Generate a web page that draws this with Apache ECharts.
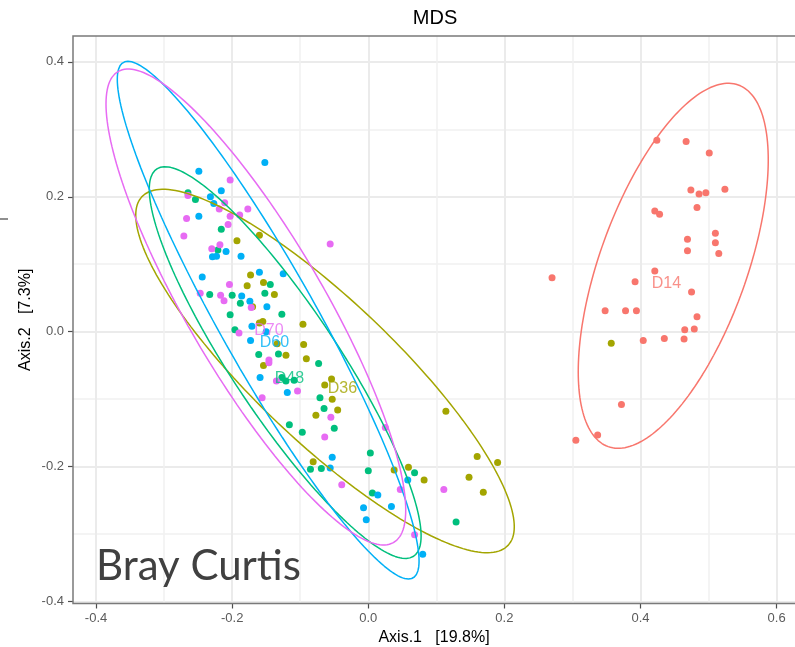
<!DOCTYPE html>
<html>
<head>
<meta charset="utf-8">
<title>MDS</title>
<script src="https://cdn.jsdelivr.net/npm/echarts/dist/echarts.min.js"></script>
<style>
  html, body { margin: 0; padding: 0; background: #ffffff; }
  #chart { width: 795px; height: 647px; }
</style>
</head>
<body>
<div id="chart"></div>
<script>
// Sample groups (sampling day) and their colours
const groups = ['D14', 'D36', 'D48', 'D60', 'D70'];
const groupColors = ['#F8766D', '#A3A500', '#00BF7D', '#00B0F6', '#E76BF3'];

// MDS coordinates (Axis.1, Axis.2) per group
const d14X = [0.424, 0.467, 0.501, 0.474, 0.486, 0.496, 0.524, 0.483, 0.421, 0.428, 0.469, 0.510, 0.510, 0.469, 0.515, 0.270, 0.421, 0.392, 0.475, 0.348, 0.378, 0.394, 0.483, 0.465, 0.479, 0.404, 0.435, 0.464, 0.372, 0.337, 0.305];
const d14Y = [0.284, 0.282, 0.265, 0.210, 0.204, 0.206, 0.211, 0.184, 0.179, 0.174, 0.137, 0.146, 0.132, 0.120, 0.116, 0.080, 0.090, 0.074, 0.059, 0.031, 0.031, 0.031, 0.022, 0.003, 0.004, -0.013, -0.010, -0.011, -0.108, -0.153, -0.161];

const d36X = [-0.193, -0.160, -0.173, -0.154, -0.178, -0.138, -0.170, -0.096, -0.160, -0.155, -0.134, -0.095, -0.121, -0.091, -0.154, -0.054, -0.064, -0.053, -0.045, -0.077, -0.081, 0.038, 0.059, 0.082, 0.114, 0.160, 0.190, 0.148, 0.169, 0.357];
const d36Y = [0.135, 0.143, 0.084, 0.073, 0.068, 0.055, 0.037, 0.011, 0.013, 0.015, -0.018, -0.019, -0.035, -0.040, -0.050, -0.070, -0.079, -0.100, -0.116, -0.124, -0.193, -0.205, -0.201, -0.220, -0.118, -0.185, -0.194, -0.216, -0.238, -0.017];

const d48X = [-0.265, -0.254, -0.216, -0.221, -0.144, -0.233, -0.200, -0.152, -0.188, -0.203, -0.127, -0.196, -0.161, -0.132, -0.073, -0.127, -0.121, -0.109, -0.071, -0.065, -0.116, -0.097, -0.050, 0.003, -0.085, -0.069, 0.000, 0.006, 0.068, 0.129];
const d48Y = [0.206, 0.196, 0.152, 0.121, 0.070, 0.055, 0.054, 0.057, 0.042, 0.025, 0.026, 0.003, -0.034, -0.033, -0.047, -0.068, -0.073, -0.072, -0.098, -0.114, -0.138, -0.149, -0.143, -0.180, -0.204, -0.203, -0.206, -0.239, -0.209, -0.282];

const d60X = [-0.152, -0.249, -0.216, -0.232, -0.227, -0.249, -0.209, -0.229, -0.223, -0.187, -0.244, -0.160, -0.125, -0.186, -0.174, -0.149, -0.171, -0.150, -0.173, -0.159, -0.119, -0.053, -0.056, 0.014, 0.058, 0.034, -0.007, -0.003, 0.080];
const d60Y = [0.251, 0.238, 0.209, 0.200, 0.190, 0.171, 0.119, 0.111, 0.112, 0.112, 0.081, 0.088, 0.086, 0.053, 0.045, 0.037, 0.008, 0.000, -0.013, -0.068, -0.090, -0.186, -0.202, -0.242, -0.220, -0.259, -0.261, -0.279, -0.330];

const d70X = [-0.203, -0.265, -0.211, -0.219, -0.177, -0.189, -0.203, -0.267, -0.206, -0.271, -0.056, -0.218, -0.230, -0.204, -0.247, -0.217, -0.212, -0.172, -0.190, -0.146, -0.146, -0.135, -0.104, -0.156, -0.055, -0.064, 0.025, -0.039, 0.047, 0.111, 0.068];
const d70Y = [0.225, 0.202, 0.191, 0.182, 0.182, 0.173, 0.171, 0.168, 0.159, 0.142, 0.130, 0.129, 0.123, 0.070, 0.057, 0.054, 0.046, 0.036, -0.002, -0.042, -0.046, -0.073, -0.088, -0.098, -0.127, -0.156, -0.142, -0.227, -0.234, -0.234, -0.301];

const groupX = [d14X, d36X, d48X, d60X, d70X];
const groupY = [d14Y, d36Y, d48Y, d60Y, d70Y];

// Group label anchors (centroids)
const labelX = [0.438, -0.038, -0.116, -0.138, -0.146];
const labelY = [0.072, -0.085, -0.069, -0.016, 0.002];

// 95% confidence ellipses: centre, half extents along each axis, and the
// cosine of the phase between the x and y oscillation (sets the tilt)
const ellipseCx = [0.4481, -0.0636, -0.1221, -0.1471, -0.1652];
const ellipseCy = [0.0977, -0.0583, -0.0458, 0.0171, 0.0366];
const ellipseRx = [0.1396, 0.2781, 0.1997, 0.2217, 0.2202];
const ellipseRy = [0.2706, 0.2694, 0.2904, 0.3838, 0.3529];
const ellipseCos = [0.58, -0.857, -0.885, -0.93, -0.853];

// Axis ticks
const xTicks = [-0.4, -0.2, 0.0, 0.2, 0.4, 0.6];
const yTicks = [-0.4, -0.2, 0.0, 0.2, 0.4];

function ellipsePoints(i) {
  const phi = Math.acos(ellipseCos[i]);
  const pts = [];
  const n = 200;
  for (let k = 0; k <= n; k++) {
    const t = (k / n) * 2 * Math.PI;
    pts.push([
      ellipseCx[i] + ellipseRx[i] * Math.cos(t),
      ellipseCy[i] + ellipseRy[i] * Math.cos(t + phi)
    ]);
  }
  return pts;
}

const FONT = '"Liberation Sans", Arial, Helvetica, sans-serif';

const series = [];
groups.forEach((g, i) => {
  series.push({
    name: g,
    type: 'scatter',
    symbol: 'circle',
    symbolSize: 7,
    itemStyle: { color: groupColors[i], opacity: 1 },
    data: groupX[i].map((x, k) => [x, groupY[i][k]]),
    z: 3
  });
});
groups.forEach((g, i) => {
  series.push({
    name: g + ' ellipse',
    type: 'line',
    data: ellipsePoints(i),
    showSymbol: false,
    symbol: 'none',
    smooth: false,
    clip: false,
    lineStyle: { color: groupColors[i], width: 1.5 },
    z: 4,
    silent: true
  });
});
series.push({
  name: 'labels',
  type: 'scatter',
  symbolSize: 0,
  z: 5,
  silent: true,
  data: groups.map((g, i) => ({
    name: g,
    value: [labelX[i], labelY[i]],
    label: { color: groupColors[i] }
  })),
  label: {
    show: true,
    position: 'inside',
    formatter: '{b}',
    fontFamily: FONT,
    fontSize: 16
  }
});

const chart = echarts.init(document.getElementById('chart'), null, { renderer: 'canvas' });

const axisCommon = {
  type: 'value',
  axisLine: { show: false, onZero: false },
  axisTick: { show: true, length: 5, lineStyle: { color: '#4d4d4d', width: 1.2 } },
  axisLabel: {
    color: '#5a5a5a',
    fontFamily: FONT,
    fontSize: 13,
    formatter: v => v.toFixed(1)
  },
  splitLine: { show: true, lineStyle: { color: '#ebebeb', width: 2 } },
  minorTick: { show: false, splitNumber: 2 },
  minorSplitLine: { show: true, lineStyle: { color: '#f1f1f1', width: 1.5 } },
  nameTextStyle: { color: '#000', fontFamily: FONT, fontSize: 16 }
};

// Panel spans x from -0.4339 (left edge) past the right side of the canvas
chart.setOption({
  animation: false,
  backgroundColor: '#ffffff',
  grid: { left: 73, top: 36, right: 0, height: 567.5, containLabel: false, outerBoundsMode: 'none' },
  xAxis: Object.assign({}, axisCommon, {
    min: -0.4339,
    max: 0.627,
    axisTick: Object.assign({}, axisCommon.axisTick, { customValues: xTicks }),
    axisLabel: Object.assign({}, axisCommon.axisLabel, { customValues: xTicks, margin: 8 }),
    name: 'Axis.1   [19.8%]',
    nameLocation: 'middle',
    nameGap: 25
  }),
  yAxis: Object.assign({}, axisCommon, {
    min: -0.403,
    max: 0.4384,
    axisTick: Object.assign({}, axisCommon.axisTick, { customValues: yTicks }),
    axisLabel: Object.assign({}, axisCommon.axisLabel, { customValues: yTicks, margin: 9 }),
    name: 'Axis.2   [7.3%]',
    nameLocation: 'middle',
    nameMoveOverlap: false,
    nameGap: 39
  }),
  series: series
});

// Panel border (right side lies off-canvas), title and annotation
const rect = chart.getModel().getComponent('grid').coordinateSystem.getRect();
const panelRight = chart.convertToPixel({ xAxisIndex: 0 }, 0.6364);
chart.setOption({
  graphic: [
    {
      type: 'rect',
      z: 50,
      silent: true,
      shape: { x: rect.x, y: rect.y, width: panelRight - rect.x, height: rect.height },
      style: { fill: 'none', stroke: '#7a7a7a', lineWidth: 1.5 }
    },
    {
      type: 'text',
      z: 50,
      silent: true,
      style: {
        text: 'MDS',
        x: 435,
        y: 18,
        textAlign: 'center',
        textVerticalAlign: 'middle',
        fontFamily: FONT,
        fontSize: 20,
        fill: '#000'
      }
    },
    {
      type: 'text',
      z: 60,
      silent: true,
      style: {
        text: 'Bray Curtis',
        x: 96,
        y: 566,
        textAlign: 'left',
        textVerticalAlign: 'middle',
        fontFamily: 'Lato, "Open Sans", sans-serif',
        fontSize: 42,
        fill: '#404040'
      }
    },
    {
      type: 'line',
      z: 50,
      silent: true,
      shape: { x1: 0, y1: 219, x2: 8, y2: 219 },
      style: { stroke: '#6a6a6a', lineWidth: 1.5 }
    }
  ]
});
</script>
</body>
</html>
